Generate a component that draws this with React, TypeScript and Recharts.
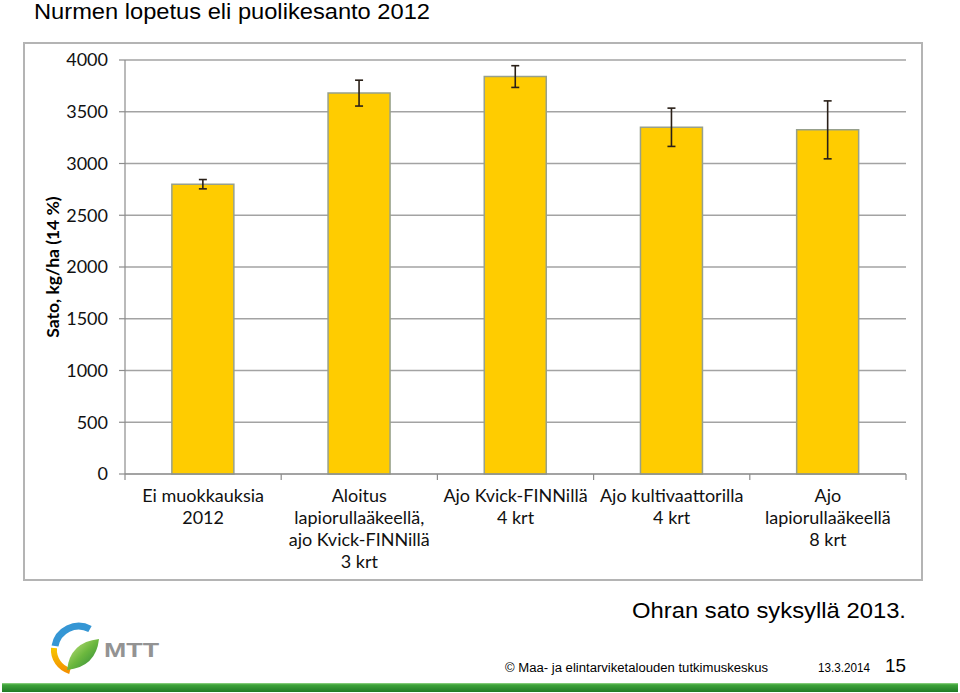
import React from "react";
import { BarChart, Bar, XAxis, YAxis, CartesianGrid, ErrorBar } from "recharts";

const categories = [
  "Ei muokkauksia\n2012",
  "Aloitus\nlapiorullaäkeellä,\najo Kvick-FINNillä\n3 krt",
  "Ajo Kvick-FINNillä\n4 krt",
  "Ajo kultivaattorilla\n4 krt",
  "Ajo\nlapiorullaäkeellä\n8 krt",
];
const yields = [2800, 3680, 3840, 3350, 3325];
const errors = [45, 125, 105, 185, 280];
const yTicks = [0, 500, 1000, 1500, 2000, 2500, 3000, 3500, 4000];

const chartData = categories.map((name, i) => ({ name, sato: yields[i], err: errors[i] }));

const FONT = "Lato, 'Noto Sans', sans-serif";
const ARIAL = "'Liberation Sans', Arial, sans-serif";
const AXIS_GREY = "#8c8c8c";

function CategoryTick(props: any) {
  const { x, y, payload, index, width, visibleTicksCount } = props;
  const half = payload?.offset || width / visibleTicksCount / 2;
  const lines = String(payload.value).split("\n");
  return (
    <g>
      {index === 0 && (
        <line x1={x - half} x2={x - half} y1={y} y2={y + 6} stroke={AXIS_GREY} strokeWidth={1.2} />
      )}
      <line x1={x + half} x2={x + half} y1={y} y2={y + 6} stroke={AXIS_GREY} strokeWidth={1.2} />
      <text x={x} y={y} textAnchor="middle" fontSize={18} fontFamily={FONT} fill="#111">
        {lines.map((l, i) => (
          <tspan key={i} x={x} dy={i === 0 ? 28 : 22}>
            {l}
          </tspan>
        ))}
      </text>
    </g>
  );
}

function Logo() {
  return (
    <g>
      <defs>
        <linearGradient id="leaf" x1="0" y1="0" x2="1" y2="1">
          <stop offset="0%" stopColor="#d2e88a" />
          <stop offset="50%" stopColor="#6cb83e" />
          <stop offset="100%" stopColor="#23823a" />
        </linearGradient>
        <linearGradient id="sun" x1="0" y1="0" x2="0" y2="1">
          <stop offset="0%" stopColor="#f7c600" />
          <stop offset="100%" stopColor="#f39200" />
        </linearGradient>
      </defs>
      <path d="M 55 646 A 24 24 0 0 1 90 629" fill="none" stroke="#3596d4" strokeWidth={7} />
      <path d="M 54 648 A 22 22 0 0 0 70 671" fill="none" stroke="url(#sun)" strokeWidth={6} />
      <path d="M 67 670 Q 70 642 99 639 Q 96 667 67 670 Z" fill="url(#leaf)" />
      <text
        x={104}
        y={657}
        fontSize={21}
        fontWeight={700}
        fontFamily={ARIAL}
        fill="#939393"
        textLength={55}
        lengthAdjust="spacingAndGlyphs"
      >
        MTT
      </text>
    </g>
  );
}

export default function App() {
  return (
    <div
      style={{
        position: "absolute",
        left: 0,
        top: 0,
        width: 960,
        height: 693,
        background: "#fff",
        overflow: "hidden",
      }}
    >
      <svg width={960} height={693} style={{ position: "absolute", left: 0, top: 0 }}>
        <text x={34} y={19} fontSize={22} fontFamily={ARIAL} fill="#000" textLength={396} lengthAdjust="spacingAndGlyphs">
          Nurmen lopetus eli puolikesanto 2012
        </text>
        <text x={632} y={618} fontSize={22} fontFamily={ARIAL} fill="#000" textLength={274} lengthAdjust="spacingAndGlyphs">
          Ohran sato syksyllä 2013.
        </text>
        <text x={505} y={672} fontSize={12.5} fontFamily={ARIAL} fill="#000" textLength={263} lengthAdjust="spacingAndGlyphs">
          © Maa- ja elintarviketalouden tutkimuskeskus
        </text>
        <text x={818} y={672} fontSize={12.5} fontFamily={ARIAL} fill="#000" textLength={52} lengthAdjust="spacingAndGlyphs">
          13.3.2014
        </text>
        <text x={885} y={672} fontSize={19} fontFamily={ARIAL} fill="#000" textLength={21} lengthAdjust="spacingAndGlyphs">
          15
        </text>
        <defs>
          <linearGradient id="band" x1="0" y1="0" x2="0" y2="1">
            <stop offset="0%" stopColor="#9bd88f" />
            <stop offset="20%" stopColor="#3fa53a" />
            <stop offset="100%" stopColor="#217a26" />
          </linearGradient>
        </defs>
        <rect x={2} y={683} width={956} height={9} fill="url(#band)" />
        <Logo />
      </svg>

      <div
        style={{
          position: "absolute",
          left: 23,
          top: 42,
          width: 900,
          height: 539,
          boxSizing: "border-box",
          border: "2px solid #b4b4b4",
          background: "#fff",
        }}
      >
        <BarChart
          width={896}
          height={535}
          data={chartData}
          margin={{ top: 16, right: 15, left: 0, bottom: 0 }}
          barCategoryGap="30%"
        >
          <CartesianGrid vertical={false} stroke="#a3a3a3" strokeWidth={1.5} />
          <XAxis
            dataKey="name"
            height={105}
            interval={0}
            tickLine={false}
            tickSize={0}
            tickMargin={0}
            axisLine={{ stroke: AXIS_GREY, strokeWidth: 1.2 }}
            tick={<CategoryTick />}
          />
          <YAxis
            width={100}
            domain={[0, 4000]}
            ticks={yTicks}
            interval={0}
            tickSize={6}
            tickMargin={11}
            axisLine={{ stroke: AXIS_GREY, strokeWidth: 1.2 }}
            tickLine={{ stroke: AXIS_GREY, strokeWidth: 1.2 }}
            tick={{ fontSize: 18, fontFamily: FONT, fill: "#111" }}
            label={{
              value: "Sato, kg/ha (14 %)",
              angle: -90,
              position: "insideLeft",
              offset: 28,
              style: { fontSize: 17.5, fontWeight: 700, fontFamily: FONT, fill: "#000", textAnchor: "middle" },
            }}
          />
          <Bar dataKey="sato" fill="#ffcc00" stroke="#97a08c" strokeWidth={1.5} isAnimationActive={false}>
            <ErrorBar dataKey="err" width={4} stroke="#2a2018" strokeWidth={1.6} />
          </Bar>
        </BarChart>
      </div>
    </div>
  );
}
